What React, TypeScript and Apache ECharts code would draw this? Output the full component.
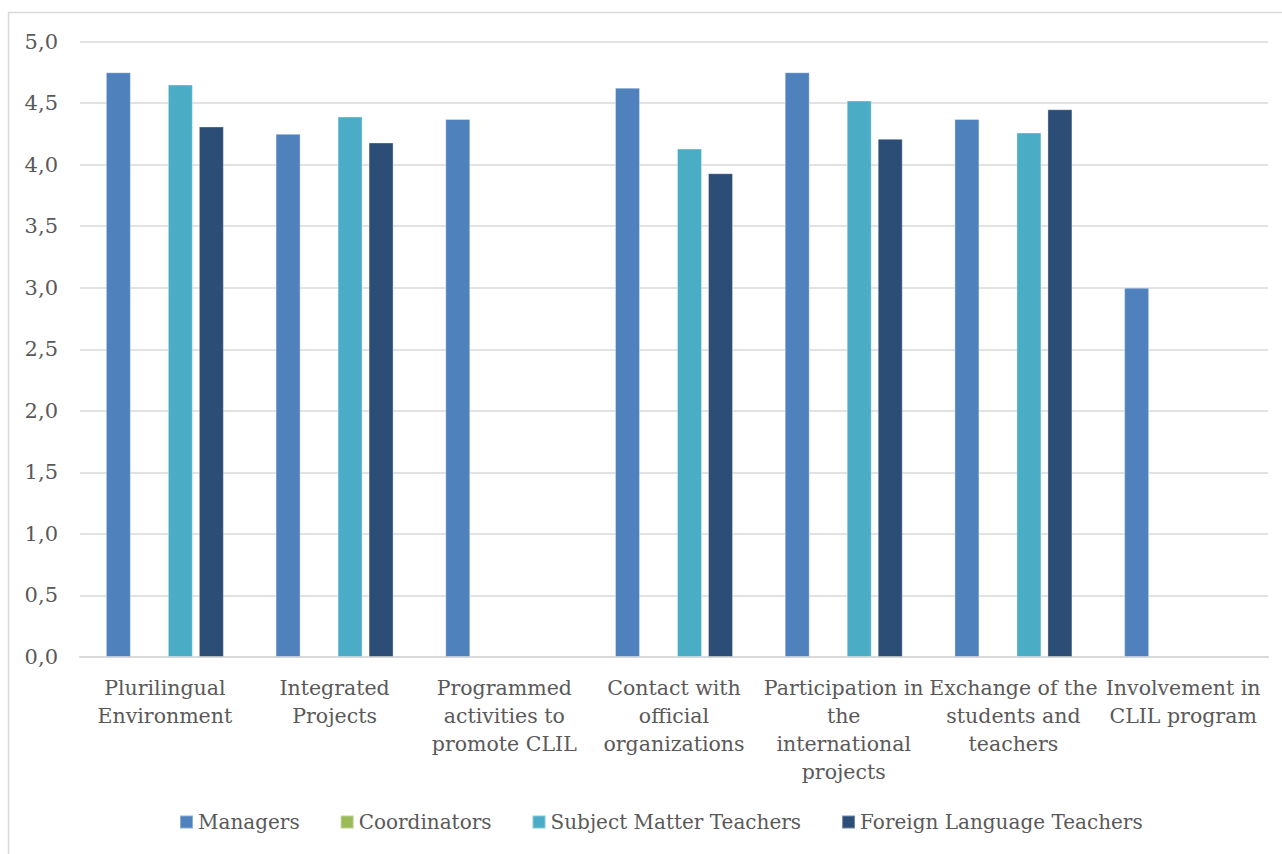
import React, { useEffect, useRef } from "react";
import * as echarts from "echarts";

const categories = [
  "Plurilingual\nEnvironment",
  "Integrated\nProjects",
  "Programmed\nactivities to\npromote CLIL",
  "Contact with\nofficial\norganizations",
  "Participation in\nthe\ninternational\nprojects",
  "Exchange of the\nstudents and\nteachers",
  "Involvement in\nCLIL program",
];
const managers = [4.75, 4.25, 4.37, 4.625, 4.75, 4.37, 3.0];
const coordinators: (number | null)[] = [null, null, null, null, null, null, null];
const subjectTeachers: (number | null)[] = [4.65, 4.39, null, 4.13, 4.52, 4.26, null];
const foreignTeachers: (number | null)[] = [4.31, 4.18, null, 3.93, 4.21, 4.45, null];
const seriesNames = ["Managers", "Coordinators", "Subject Matter Teachers", "Foreign Language Teachers"];
const seriesColors = ["#4F81BD", "#9BBB59", "#4BACC6", "#2C4D75"];

const FONT = "'DejaVu Serif', 'Liberation Serif', serif";

export default function App() {
  const ref = useRef<HTMLDivElement>(null);
  useEffect(() => {
    if (!ref.current) return;
    const chart = echarts.init(ref.current, undefined, { renderer: "svg" });
    const data = [managers, coordinators, subjectTeachers, foreignTeachers];
    chart.setOption({
      animation: false,
      backgroundColor: "#ffffff",
      graphic: [
        {
          type: "rect",
          shape: { x: 8.5, y: 12.5, width: 1300, height: 900 },
          style: { fill: "none", stroke: "#d9d9d9", lineWidth: 1.5 },
          silent: true,
        },
      ],
      grid: { left: 80, right: 14, top: 41.5, bottom: 197, containLabel: false },
      legend: {
        bottom: 17,
        left: 174,
        icon: "rect",
        itemWidth: 13,
        itemHeight: 13,
        itemGap: 40,
        textStyle: { fontFamily: FONT, fontSize: 20, color: "#595959" },
        data: seriesNames,
      },
      xAxis: {
        type: "category",
        data: categories,
        axisLine: { lineStyle: { color: "#d9d9d9", width: 2 } },
        axisTick: { show: false },
        axisLabel: {
          fontFamily: FONT,
          fontSize: 20.5,
          color: "#595959",
          lineHeight: 28,
          margin: 17,
          interval: 0,
        },
      },
      yAxis: {
        type: "value",
        min: 0,
        max: 5,
        interval: 0.5,
        axisLine: { show: false },
        axisTick: { show: false },
        splitLine: { lineStyle: { color: "#d9d9d9", width: 1.5 } },
        axisLabel: {
          fontFamily: FONT,
          fontSize: 21,
          color: "#595959",
          margin: 22,
          formatter: (v: number) => v.toFixed(1).replace(".", ","),
        },
      },
      series: seriesNames.map((name, i) => ({
        name,
        type: "bar",
        data: data[i],
        barWidth: 25,
        barGap: "24%",
        itemStyle: { color: seriesColors[i], borderColor: "rgba(255,255,255,0.35)", borderWidth: 1 },
      })),
    });
    return () => chart.dispose();
  }, []);
  return (
    <div style={{ position: "fixed", left: 0, top: 0, width: 1282, height: 854, background: "#fff" }}>
      <div ref={ref} style={{ width: 1282, height: 854 }} />
    </div>
  );
}
